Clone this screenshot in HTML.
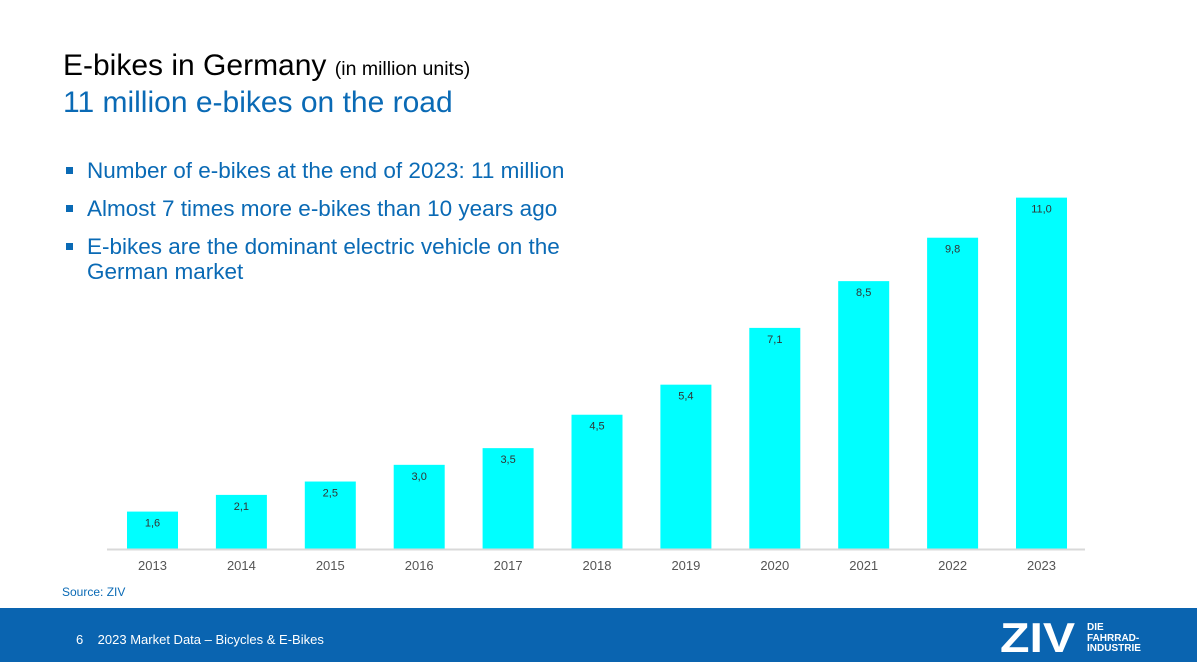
<!DOCTYPE html>
<html><head><meta charset="utf-8"><style>
body{margin:0;width:1197px;height:662px;background:#fff;font-family:"Liberation Sans",sans-serif;position:relative;overflow:hidden}
.abs{position:absolute}
</style></head><body>
<div class="abs" style="left:63px;top:49px;font-size:30px;color:#000">E-bikes in Germany <span style="font-size:19.5px">(in million units)</span></div>
<div class="abs" style="left:63px;top:86px;font-size:30px;color:#0a6ab5">11 million e-bikes on the road</div>
<div class="abs" style="left:66px;top:158px;font-size:22.5px;color:#0a6ab5;line-height:25px;width:540px">
<div style="margin-bottom:13px;padding-left:21px;position:relative"><span style="position:absolute;left:0;top:9px;width:7px;height:7px;background:#0a6ab5"></span>Number of e-bikes at the end of 2023: 11 million</div>
<div style="margin-bottom:13px;padding-left:21px;position:relative"><span style="position:absolute;left:0;top:9px;width:7px;height:7px;background:#0a6ab5"></span>Almost 7 times more e-bikes than 10 years ago</div>
<div style="padding-left:21px;position:relative"><span style="position:absolute;left:0;top:9px;width:7px;height:7px;background:#0a6ab5"></span>E-bikes are the dominant electric vehicle on the German market</div>
</div>
<svg class="abs" style="left:0;top:0" width="1197" height="662">
<g id="bars"></g>
<line x1="107" x2="1085" y1="549.5" y2="549.5" stroke="#d9d9d9" stroke-width="2"/>
</svg>
<div class="abs" style="left:62px;top:585px;font-size:12px;color:#0a6ab5">Source: ZIV</div>
<div class="abs" style="left:0;top:608px;width:1197px;height:54px;background:#0a64b0">
<div class="abs" style="left:76px;top:24px;font-size:13px;color:#fff">6&nbsp;&nbsp;&nbsp;&nbsp;2023 Market Data – Bicycles &amp; E-Bikes</div>
<div class="abs" style="left:1000px;top:10px;font-size:42px;font-weight:bold;color:#fff;line-height:40px;transform:scaleX(1.15);transform-origin:left top">ZIV</div>
<div class="abs" style="left:1087px;top:15px;font-size:10px;font-weight:bold;color:#fff;line-height:10.5px">DIE<br>FAHRRAD-<br>INDUSTRIE</div>
</div>
<script>
const years=["2013","2014","2015","2016","2017","2018","2019","2020","2021","2022","2023"];
const values=[1.6,2.1,2.5,3.0,3.5,4.5,5.4,7.1,8.5,9.8,11.0];
const labels=["1,6","2,1","2,5","3,0","3,5","4,5","5,4","7,1","8,5","9,8","11,0"];
const NS="http://www.w3.org/2000/svg",g=document.getElementById('bars');
const base=549,y=v=>base-(v-0.48)*33.4,x=i=>127+i*88.9,w=51;
values.forEach((v,i)=>{
 const r=document.createElementNS(NS,'rect');
 r.setAttribute('x',x(i));r.setAttribute('y',y(v));r.setAttribute('width',w);r.setAttribute('height',base-y(v));r.setAttribute('fill','#00ffff');
 
 
 g.appendChild(r);
 const t=document.createElementNS(NS,'text');
 t.setAttribute('x',x(i)+w/2);t.setAttribute('y',y(v)+15);t.setAttribute('text-anchor','middle');t.setAttribute('font-size','11');t.setAttribute('fill','#333');t.setAttribute('font-family','Liberation Sans');
 t.textContent=labels[i];
 
 
 g.appendChild(t);
 const l=document.createElementNS(NS,'text');
 l.setAttribute('x',x(i)+w/2);l.setAttribute('y',570);l.setAttribute('text-anchor','middle');l.setAttribute('font-size','13');l.setAttribute('fill','#555');l.setAttribute('font-family','Liberation Sans');
 l.textContent=years[i];
 
 
 g.appendChild(l);
});
</script>
</body></html>
